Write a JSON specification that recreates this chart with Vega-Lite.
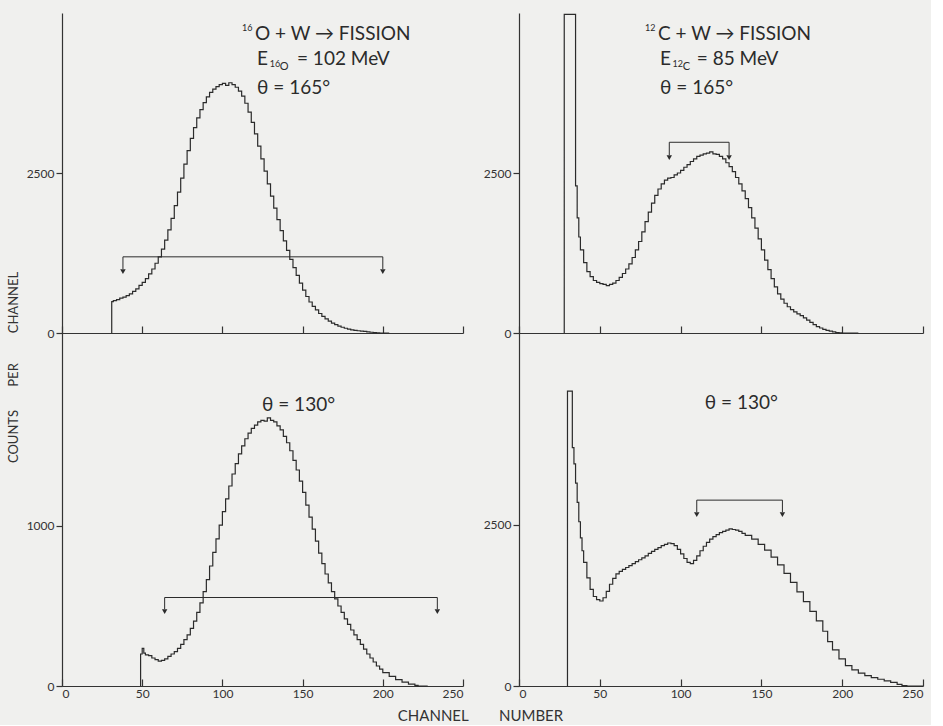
{
  "$schema": "https://vega.github.io/schema/vega-lite/v6.json",
  "background": "#f0f0ee",
  "padding": {"left": 8, "top": 11, "right": 5, "bottom": 2},
  "config": {
    "view": {"stroke": null},
    "font": "Lato",
    "axis": {"domainColor": "#333", "tickColor": "#333", "labelColor": "#333", "labelFont": "Lato", "labelFontSize": 12, "grid": false, "domainWidth": 1.2, "tickWidth": 1.2, "titleFont": "Lato", "titleFontWeight": "normal", "titleFontSize": 15, "titleColor": "#333", "format": "d"},
    "axisX": {"tickSize": -7, "labelPadding": 9},
    "axisY": {"tickSize": 6, "labelPadding": 2}
  },
  "title": {"text": "COUNTS\u00a0\u00a0\u00a0\u00a0\u00a0\u00a0\u00a0PER\u00a0\u00a0\u00a0\u00a0\u00a0\u00a0\u00a0\u00a0\u00a0CHANNEL", "orient": "left", "anchor": "middle", "fontSize": 13, "font": "Lato", "fontWeight": "normal", "color": "#333", "offset": 5},
  "datasets": {
    "a": [
      {"ch": 31, "n": 0}, {"ch": 31, "n": 490}, {"ch": 32, "n": 505}, {"ch": 34, "n": 520}, {"ch": 36, "n": 545}, {"ch": 38, "n": 560}, {"ch": 40, "n": 585}, {"ch": 42, "n": 610}, {"ch": 44, "n": 650}, {"ch": 46, "n": 690}, {"ch": 48, "n": 745}, {"ch": 50, "n": 790}, {"ch": 52, "n": 850}, {"ch": 54, "n": 925}, {"ch": 56, "n": 1000}, {"ch": 58, "n": 1090}, {"ch": 60, "n": 1190}, {"ch": 62, "n": 1310}, {"ch": 64, "n": 1450}, {"ch": 66, "n": 1610}, {"ch": 68, "n": 1790}, {"ch": 70, "n": 1990}, {"ch": 72, "n": 2200}, {"ch": 74, "n": 2420}, {"ch": 76, "n": 2640}, {"ch": 78, "n": 2850}, {"ch": 80, "n": 3040}, {"ch": 82, "n": 3210}, {"ch": 84, "n": 3360}, {"ch": 86, "n": 3490}, {"ch": 88, "n": 3600}, {"ch": 90, "n": 3690}, {"ch": 92, "n": 3760}, {"ch": 94, "n": 3810}, {"ch": 96, "n": 3850}, {"ch": 98, "n": 3880}, {"ch": 100, "n": 3900}, {"ch": 102, "n": 3870}, {"ch": 104, "n": 3910}, {"ch": 106, "n": 3880}, {"ch": 108, "n": 3840}, {"ch": 110, "n": 3780}, {"ch": 112, "n": 3700}, {"ch": 114, "n": 3590}, {"ch": 116, "n": 3450}, {"ch": 118, "n": 3290}, {"ch": 120, "n": 3110}, {"ch": 122, "n": 2920}, {"ch": 124, "n": 2720}, {"ch": 126, "n": 2530}, {"ch": 128, "n": 2330}, {"ch": 130, "n": 2140}, {"ch": 132, "n": 1950}, {"ch": 134, "n": 1770}, {"ch": 136, "n": 1600}, {"ch": 138, "n": 1440}, {"ch": 140, "n": 1290}, {"ch": 142, "n": 1150}, {"ch": 144, "n": 1020}, {"ch": 146, "n": 900}, {"ch": 148, "n": 780}, {"ch": 150, "n": 670}, {"ch": 152, "n": 570}, {"ch": 154, "n": 484}, {"ch": 156, "n": 415}, {"ch": 158, "n": 360}, {"ch": 160, "n": 305}, {"ch": 162, "n": 260}, {"ch": 164, "n": 220}, {"ch": 166, "n": 185}, {"ch": 168, "n": 155}, {"ch": 170, "n": 130}, {"ch": 172, "n": 108}, {"ch": 174, "n": 90}, {"ch": 176, "n": 74}, {"ch": 178, "n": 60}, {"ch": 180, "n": 50}, {"ch": 182, "n": 42}, {"ch": 184, "n": 35}, {"ch": 186, "n": 30}, {"ch": 188, "n": 24}, {"ch": 190, "n": 18}, {"ch": 192, "n": 12}, {"ch": 194, "n": 6}, {"ch": 196, "n": 2}, {"ch": 198, "n": 0}, {"ch": 204, "n": 0}
    ],
    "b": [
      {"ch": 28, "n": 0}, {"ch": 28, "n": 4980}, {"ch": 35, "n": 2300}, {"ch": 36, "n": 1800}, {"ch": 37, "n": 1500}, {"ch": 38, "n": 1300}, {"ch": 40, "n": 1100}, {"ch": 42, "n": 960}, {"ch": 44, "n": 880}, {"ch": 46, "n": 820}, {"ch": 48, "n": 790}, {"ch": 50, "n": 770}, {"ch": 52, "n": 760}, {"ch": 54, "n": 740}, {"ch": 56, "n": 760}, {"ch": 58, "n": 780}, {"ch": 60, "n": 820}, {"ch": 62, "n": 870}, {"ch": 64, "n": 930}, {"ch": 66, "n": 1000}, {"ch": 68, "n": 1080}, {"ch": 70, "n": 1180}, {"ch": 72, "n": 1300}, {"ch": 74, "n": 1430}, {"ch": 76, "n": 1580}, {"ch": 78, "n": 1740}, {"ch": 80, "n": 1890}, {"ch": 82, "n": 2030}, {"ch": 84, "n": 2150}, {"ch": 86, "n": 2250}, {"ch": 88, "n": 2330}, {"ch": 90, "n": 2390}, {"ch": 92, "n": 2420}, {"ch": 94, "n": 2430}, {"ch": 96, "n": 2470}, {"ch": 98, "n": 2500}, {"ch": 100, "n": 2540}, {"ch": 102, "n": 2590}, {"ch": 104, "n": 2630}, {"ch": 106, "n": 2680}, {"ch": 108, "n": 2720}, {"ch": 110, "n": 2760}, {"ch": 112, "n": 2780}, {"ch": 114, "n": 2800}, {"ch": 116, "n": 2810}, {"ch": 118, "n": 2830}, {"ch": 120, "n": 2800}, {"ch": 122, "n": 2790}, {"ch": 124, "n": 2760}, {"ch": 126, "n": 2720}, {"ch": 128, "n": 2660}, {"ch": 130, "n": 2600}, {"ch": 132, "n": 2520}, {"ch": 134, "n": 2430}, {"ch": 136, "n": 2330}, {"ch": 138, "n": 2220}, {"ch": 140, "n": 2100}, {"ch": 142, "n": 1960}, {"ch": 144, "n": 1800}, {"ch": 146, "n": 1640}, {"ch": 148, "n": 1470}, {"ch": 150, "n": 1300}, {"ch": 152, "n": 1140}, {"ch": 154, "n": 990}, {"ch": 156, "n": 850}, {"ch": 158, "n": 720}, {"ch": 160, "n": 610}, {"ch": 162, "n": 530}, {"ch": 164, "n": 465}, {"ch": 166, "n": 410}, {"ch": 168, "n": 365}, {"ch": 170, "n": 330}, {"ch": 172, "n": 300}, {"ch": 174, "n": 270}, {"ch": 176, "n": 235}, {"ch": 178, "n": 200}, {"ch": 180, "n": 165}, {"ch": 182, "n": 130}, {"ch": 184, "n": 100}, {"ch": 186, "n": 78}, {"ch": 188, "n": 58}, {"ch": 190, "n": 42}, {"ch": 192, "n": 28}, {"ch": 194, "n": 17}, {"ch": 196, "n": 8}, {"ch": 198, "n": 2}, {"ch": 200, "n": 0}, {"ch": 210, "n": 0}
    ],
    "c": [
      {"ch": 49, "n": 0}, {"ch": 49, "n": 200}, {"ch": 50, "n": 235}, {"ch": 51, "n": 205}, {"ch": 52, "n": 195}, {"ch": 54, "n": 190}, {"ch": 56, "n": 175}, {"ch": 58, "n": 165}, {"ch": 60, "n": 155}, {"ch": 62, "n": 160}, {"ch": 64, "n": 170}, {"ch": 66, "n": 185}, {"ch": 68, "n": 200}, {"ch": 70, "n": 215}, {"ch": 72, "n": 235}, {"ch": 74, "n": 260}, {"ch": 76, "n": 290}, {"ch": 78, "n": 320}, {"ch": 80, "n": 360}, {"ch": 82, "n": 405}, {"ch": 84, "n": 460}, {"ch": 86, "n": 520}, {"ch": 88, "n": 590}, {"ch": 90, "n": 665}, {"ch": 92, "n": 750}, {"ch": 94, "n": 835}, {"ch": 96, "n": 920}, {"ch": 98, "n": 1005}, {"ch": 100, "n": 1090}, {"ch": 102, "n": 1170}, {"ch": 104, "n": 1250}, {"ch": 106, "n": 1325}, {"ch": 108, "n": 1390}, {"ch": 110, "n": 1450}, {"ch": 112, "n": 1500}, {"ch": 114, "n": 1545}, {"ch": 116, "n": 1580}, {"ch": 118, "n": 1610}, {"ch": 120, "n": 1630}, {"ch": 122, "n": 1650}, {"ch": 124, "n": 1660}, {"ch": 126, "n": 1655}, {"ch": 128, "n": 1675}, {"ch": 130, "n": 1660}, {"ch": 132, "n": 1650}, {"ch": 134, "n": 1625}, {"ch": 136, "n": 1600}, {"ch": 138, "n": 1560}, {"ch": 140, "n": 1520}, {"ch": 142, "n": 1470}, {"ch": 144, "n": 1410}, {"ch": 146, "n": 1350}, {"ch": 148, "n": 1280}, {"ch": 150, "n": 1210}, {"ch": 152, "n": 1130}, {"ch": 154, "n": 1055}, {"ch": 156, "n": 980}, {"ch": 158, "n": 905}, {"ch": 160, "n": 830}, {"ch": 162, "n": 765}, {"ch": 164, "n": 700}, {"ch": 166, "n": 645}, {"ch": 168, "n": 590}, {"ch": 170, "n": 545}, {"ch": 172, "n": 500}, {"ch": 174, "n": 460}, {"ch": 176, "n": 420}, {"ch": 178, "n": 385}, {"ch": 180, "n": 350}, {"ch": 182, "n": 320}, {"ch": 184, "n": 290}, {"ch": 186, "n": 260}, {"ch": 188, "n": 230}, {"ch": 190, "n": 200}, {"ch": 192, "n": 175}, {"ch": 194, "n": 150}, {"ch": 196, "n": 125}, {"ch": 198, "n": 105}, {"ch": 200, "n": 84}, {"ch": 204, "n": 60}, {"ch": 208, "n": 40}, {"ch": 212, "n": 24}, {"ch": 216, "n": 12}, {"ch": 220, "n": 4}, {"ch": 222, "n": 0}, {"ch": 228, "n": 0}
    ],
    "d": [
      {"ch": 30, "n": 0}, {"ch": 30, "n": 4580}, {"ch": 33, "n": 3700}, {"ch": 34, "n": 3450}, {"ch": 35, "n": 3150}, {"ch": 36, "n": 2850}, {"ch": 37, "n": 2550}, {"ch": 38, "n": 2300}, {"ch": 39, "n": 2100}, {"ch": 40, "n": 1920}, {"ch": 42, "n": 1680}, {"ch": 44, "n": 1500}, {"ch": 46, "n": 1390}, {"ch": 48, "n": 1340}, {"ch": 50, "n": 1320}, {"ch": 52, "n": 1370}, {"ch": 54, "n": 1470}, {"ch": 56, "n": 1580}, {"ch": 58, "n": 1670}, {"ch": 60, "n": 1740}, {"ch": 62, "n": 1780}, {"ch": 64, "n": 1810}, {"ch": 66, "n": 1840}, {"ch": 68, "n": 1870}, {"ch": 70, "n": 1900}, {"ch": 72, "n": 1930}, {"ch": 74, "n": 1960}, {"ch": 76, "n": 1990}, {"ch": 78, "n": 2020}, {"ch": 80, "n": 2060}, {"ch": 82, "n": 2090}, {"ch": 84, "n": 2120}, {"ch": 86, "n": 2150}, {"ch": 88, "n": 2180}, {"ch": 90, "n": 2200}, {"ch": 92, "n": 2220}, {"ch": 94, "n": 2210}, {"ch": 96, "n": 2180}, {"ch": 98, "n": 2120}, {"ch": 100, "n": 2050}, {"ch": 102, "n": 1980}, {"ch": 104, "n": 1920}, {"ch": 106, "n": 1900}, {"ch": 108, "n": 1950}, {"ch": 110, "n": 2020}, {"ch": 112, "n": 2100}, {"ch": 114, "n": 2170}, {"ch": 116, "n": 2230}, {"ch": 118, "n": 2280}, {"ch": 120, "n": 2320}, {"ch": 122, "n": 2350}, {"ch": 124, "n": 2380}, {"ch": 126, "n": 2400}, {"ch": 128, "n": 2420}, {"ch": 130, "n": 2440}, {"ch": 132, "n": 2430}, {"ch": 134, "n": 2420}, {"ch": 136, "n": 2400}, {"ch": 138, "n": 2370}, {"ch": 140, "n": 2340}, {"ch": 144, "n": 2280}, {"ch": 148, "n": 2200}, {"ch": 152, "n": 2110}, {"ch": 156, "n": 2000}, {"ch": 160, "n": 1880}, {"ch": 164, "n": 1750}, {"ch": 168, "n": 1610}, {"ch": 172, "n": 1460}, {"ch": 176, "n": 1310}, {"ch": 180, "n": 1160}, {"ch": 184, "n": 1010}, {"ch": 188, "n": 850}, {"ch": 191, "n": 690}, {"ch": 194, "n": 560}, {"ch": 198, "n": 420}, {"ch": 202, "n": 315}, {"ch": 206, "n": 250}, {"ch": 210, "n": 200}, {"ch": 214, "n": 160}, {"ch": 218, "n": 130}, {"ch": 222, "n": 105}, {"ch": 226, "n": 80}, {"ch": 230, "n": 55}, {"ch": 234, "n": 25}, {"ch": 237, "n": 5}, {"ch": 240, "n": 0}, {"ch": 250, "n": 0}
    ],
    "rules": [
      {"p": "a", "x": 38, "x2": 200, "y": 1190, "y2": 1190},
      {"p": "a", "x": 38, "x2": 38, "y": 1190, "y2": 1000},
      {"p": "a", "x": 200, "x2": 200, "y": 1190, "y2": 1000},
      {"p": "b", "x": 93, "x2": 130, "y": 2980, "y2": 2980},
      {"p": "b", "x": 93, "x2": 93, "y": 2980, "y2": 2780},
      {"p": "b", "x": 130, "x2": 130, "y": 2980, "y2": 2780},
      {"p": "c", "x": 64, "x2": 234, "y": 553, "y2": 553},
      {"p": "c", "x": 64, "x2": 64, "y": 553, "y2": 480},
      {"p": "c", "x": 234, "x2": 234, "y": 553, "y2": 480},
      {"p": "d", "x": 110, "x2": 163, "y": 2886, "y2": 2886},
      {"p": "d", "x": 110, "x2": 110, "y": 2886, "y2": 2700},
      {"p": "d", "x": 163, "x2": 163, "y": 2886, "y2": 2700}
    ],
    "arrows": [
      {"p": "a", "x": 38, "y": 960}, {"p": "a", "x": 200, "y": 960},
      {"p": "b", "x": 93, "y": 2740}, {"p": "b", "x": 130, "y": 2740},
      {"p": "c", "x": 64, "y": 465}, {"p": "c", "x": 234, "y": 465},
      {"p": "d", "x": 110, "y": 2660}, {"p": "d", "x": 163, "y": 2660}
    ],
    "big": [
      {"p": "a", "x": 120.3, "y": 4672, "t": "O + W \u2192 FISSION"},
      {"p": "a", "x": 121.6, "y": 4281, "t": "E"},
      {"p": "a", "x": 146.5, "y": 4281, "t": "= 102 MeV"},
      {"p": "a", "x": 121.6, "y": 3828, "t": "\u03b8 = 165\u00b0"},
      {"p": "b", "x": 86, "y": 4672, "t": "C + W \u2192 FISSION"},
      {"p": "b", "x": 87.3, "y": 4281, "t": "E"},
      {"p": "b", "x": 110, "y": 4281, "t": "= 85 MeV"},
      {"p": "b", "x": 87.3, "y": 3828, "t": "\u03b8 = 165\u00b0"},
      {"p": "c", "x": 124.7, "y": 1755, "t": "\u03b8 = 130\u00b0"},
      {"p": "d", "x": 115, "y": 4388, "t": "\u03b8 = 130\u00b0"}
    ],
    "tiny": [
      {"p": "a", "x": 112.2, "y": 4766, "t": "16"},
      {"p": "a", "x": 129.5, "y": 4200, "t": "16"},
      {"p": "b", "x": 78, "y": 4766, "t": "12"},
      {"p": "b", "x": 95, "y": 4200, "t": "12"}
    ],
    "small": [
      {"p": "a", "x": 135.8, "y": 4150, "t": "O"},
      {"p": "b", "x": 101.3, "y": 4150, "t": "C"}
    ]
  },
  "columns": 2,
  "bounds": "flush",
  "spacing": {"row": 0, "column": 56},
  "concat": [
    {
      "width": 401, "height": 320,
      "layer": [
        {"data": {"name": "a"}, "mark": {"type": "line", "interpolate": "step-after", "color": "#2b2b2b", "strokeWidth": 1.2},
         "encoding": {"x": {"field": "ch", "type": "quantitative", "scale": {"domain": [0, 250], "nice": false}, "axis": {"values": [0, 50, 100, 150, 200, 250], "labels": false, "title": null}},
                      "y": {"field": "n", "type": "quantitative", "scale": {"domain": [0, 5000], "nice": false}, "axis": {"values": [0, 2500], "title": null}}}},
        {"data": {"name": "rules"}, "transform": [{"filter": "datum.p == 'a'"}], "mark": {"type": "rule", "color": "#2b2b2b", "strokeWidth": 1},
         "encoding": {"x": {"field": "x", "type": "quantitative"}, "x2": {"field": "x2"}, "y": {"field": "y", "type": "quantitative"}, "y2": {"field": "y2"}}},
        {"data": {"name": "arrows"}, "transform": [{"filter": "datum.p == 'a'"}], "mark": {"type": "point", "shape": "triangle-down", "filled": true, "size": 30, "color": "#2b2b2b", "opacity": 1},
         "encoding": {"x": {"field": "x", "type": "quantitative"}, "y": {"field": "y", "type": "quantitative"}}},
        {"data": {"name": "big"}, "transform": [{"filter": "datum.p == 'a'"}], "mark": {"type": "text", "align": "left", "baseline": "middle", "fontSize": 19, "font": "Lato", "color": "#2b2b2b"},
         "encoding": {"x": {"field": "x", "type": "quantitative"}, "y": {"field": "y", "type": "quantitative"}, "text": {"field": "t"}}},
        {"data": {"name": "tiny"}, "transform": [{"filter": "datum.p == 'a'"}], "mark": {"type": "text", "align": "left", "baseline": "middle", "fontSize": 9, "font": "Lato", "color": "#2b2b2b"},
         "encoding": {"x": {"field": "x", "type": "quantitative"}, "y": {"field": "y", "type": "quantitative"}, "text": {"field": "t"}}},
        {"data": {"name": "small"}, "transform": [{"filter": "datum.p == 'a'"}], "mark": {"type": "text", "align": "left", "baseline": "middle", "fontSize": 11, "font": "Lato", "color": "#2b2b2b"},
         "encoding": {"x": {"field": "x", "type": "quantitative"}, "y": {"field": "y", "type": "quantitative"}, "text": {"field": "t"}}}
      ]
    },
    {
      "width": 404, "height": 320,
      "layer": [
        {"data": {"name": "b"}, "mark": {"type": "line", "interpolate": "step-after", "color": "#2b2b2b", "strokeWidth": 1.2},
         "encoding": {"x": {"field": "ch", "type": "quantitative", "scale": {"domain": [0, 250], "nice": false}, "axis": {"values": [0, 50, 100, 150, 200, 250], "labels": false, "title": null}},
                      "y": {"field": "n", "type": "quantitative", "scale": {"domain": [0, 5000], "nice": false}, "axis": {"values": [0, 2500], "title": null}}}},
        {"data": {"name": "rules"}, "transform": [{"filter": "datum.p == 'b'"}], "mark": {"type": "rule", "color": "#2b2b2b", "strokeWidth": 1},
         "encoding": {"x": {"field": "x", "type": "quantitative"}, "x2": {"field": "x2"}, "y": {"field": "y", "type": "quantitative"}, "y2": {"field": "y2"}}},
        {"data": {"name": "arrows"}, "transform": [{"filter": "datum.p == 'b'"}], "mark": {"type": "point", "shape": "triangle-down", "filled": true, "size": 30, "color": "#2b2b2b", "opacity": 1},
         "encoding": {"x": {"field": "x", "type": "quantitative"}, "y": {"field": "y", "type": "quantitative"}}},
        {"data": {"name": "big"}, "transform": [{"filter": "datum.p == 'b'"}], "mark": {"type": "text", "align": "left", "baseline": "middle", "fontSize": 19, "font": "Lato", "color": "#2b2b2b"},
         "encoding": {"x": {"field": "x", "type": "quantitative"}, "y": {"field": "y", "type": "quantitative"}, "text": {"field": "t"}}},
        {"data": {"name": "tiny"}, "transform": [{"filter": "datum.p == 'b'"}], "mark": {"type": "text", "align": "left", "baseline": "middle", "fontSize": 9, "font": "Lato", "color": "#2b2b2b"},
         "encoding": {"x": {"field": "x", "type": "quantitative"}, "y": {"field": "y", "type": "quantitative"}, "text": {"field": "t"}}},
        {"data": {"name": "small"}, "transform": [{"filter": "datum.p == 'b'"}], "mark": {"type": "text", "align": "left", "baseline": "middle", "fontSize": 11, "font": "Lato", "color": "#2b2b2b"},
         "encoding": {"x": {"field": "x", "type": "quantitative"}, "y": {"field": "y", "type": "quantitative"}, "text": {"field": "t"}}}
      ]
    },
    {
      "width": 401, "height": 353,
      "layer": [
        {"data": {"name": "c"}, "mark": {"type": "line", "interpolate": "step-after", "color": "#2b2b2b", "strokeWidth": 1.2},
         "encoding": {"x": {"field": "ch", "type": "quantitative", "scale": {"domain": [0, 250], "nice": false}, "axis": {"values": [0, 50, 100, 150, 200, 250], "title": "CHANNEL\u00a0\u00a0\u00a0\u00a0\u00a0\u00a0\u00a0\u00a0NUMBER", "titleX": 418, "titleAlign": "center", "titlePadding": 9}},
                      "y": {"field": "n", "type": "quantitative", "scale": {"domain": [0, 2206], "nice": false}, "axis": {"values": [0, 1000], "title": null}}}},
        {"data": {"name": "rules"}, "transform": [{"filter": "datum.p == 'c'"}], "mark": {"type": "rule", "color": "#2b2b2b", "strokeWidth": 1},
         "encoding": {"x": {"field": "x", "type": "quantitative"}, "x2": {"field": "x2"}, "y": {"field": "y", "type": "quantitative"}, "y2": {"field": "y2"}}},
        {"data": {"name": "arrows"}, "transform": [{"filter": "datum.p == 'c'"}], "mark": {"type": "point", "shape": "triangle-down", "filled": true, "size": 30, "color": "#2b2b2b", "opacity": 1},
         "encoding": {"x": {"field": "x", "type": "quantitative"}, "y": {"field": "y", "type": "quantitative"}}},
        {"data": {"name": "big"}, "transform": [{"filter": "datum.p == 'c'"}], "mark": {"type": "text", "align": "left", "baseline": "middle", "fontSize": 19, "font": "Lato", "color": "#2b2b2b"},
         "encoding": {"x": {"field": "x", "type": "quantitative"}, "y": {"field": "y", "type": "quantitative"}, "text": {"field": "t"}}}
      ]
    },
    {
      "width": 404, "height": 353,
      "layer": [
        {"data": {"name": "d"}, "mark": {"type": "line", "interpolate": "step-after", "color": "#2b2b2b", "strokeWidth": 1.2},
         "encoding": {"x": {"field": "ch", "type": "quantitative", "scale": {"domain": [0, 250], "nice": false}, "axis": {"values": [0, 50, 100, 150, 200, 250], "title": null}},
                      "y": {"field": "n", "type": "quantitative", "scale": {"domain": [0, 5481], "nice": false}, "axis": {"values": [0, 2500], "title": null}}}},
        {"data": {"name": "rules"}, "transform": [{"filter": "datum.p == 'd'"}], "mark": {"type": "rule", "color": "#2b2b2b", "strokeWidth": 1},
         "encoding": {"x": {"field": "x", "type": "quantitative"}, "x2": {"field": "x2"}, "y": {"field": "y", "type": "quantitative"}, "y2": {"field": "y2"}}},
        {"data": {"name": "arrows"}, "transform": [{"filter": "datum.p == 'd'"}], "mark": {"type": "point", "shape": "triangle-down", "filled": true, "size": 30, "color": "#2b2b2b", "opacity": 1},
         "encoding": {"x": {"field": "x", "type": "quantitative"}, "y": {"field": "y", "type": "quantitative"}}},
        {"data": {"name": "big"}, "transform": [{"filter": "datum.p == 'd'"}], "mark": {"type": "text", "align": "left", "baseline": "middle", "fontSize": 19, "font": "Lato", "color": "#2b2b2b"},
         "encoding": {"x": {"field": "x", "type": "quantitative"}, "y": {"field": "y", "type": "quantitative"}, "text": {"field": "t"}}}
      ]
    }
  ]
}
